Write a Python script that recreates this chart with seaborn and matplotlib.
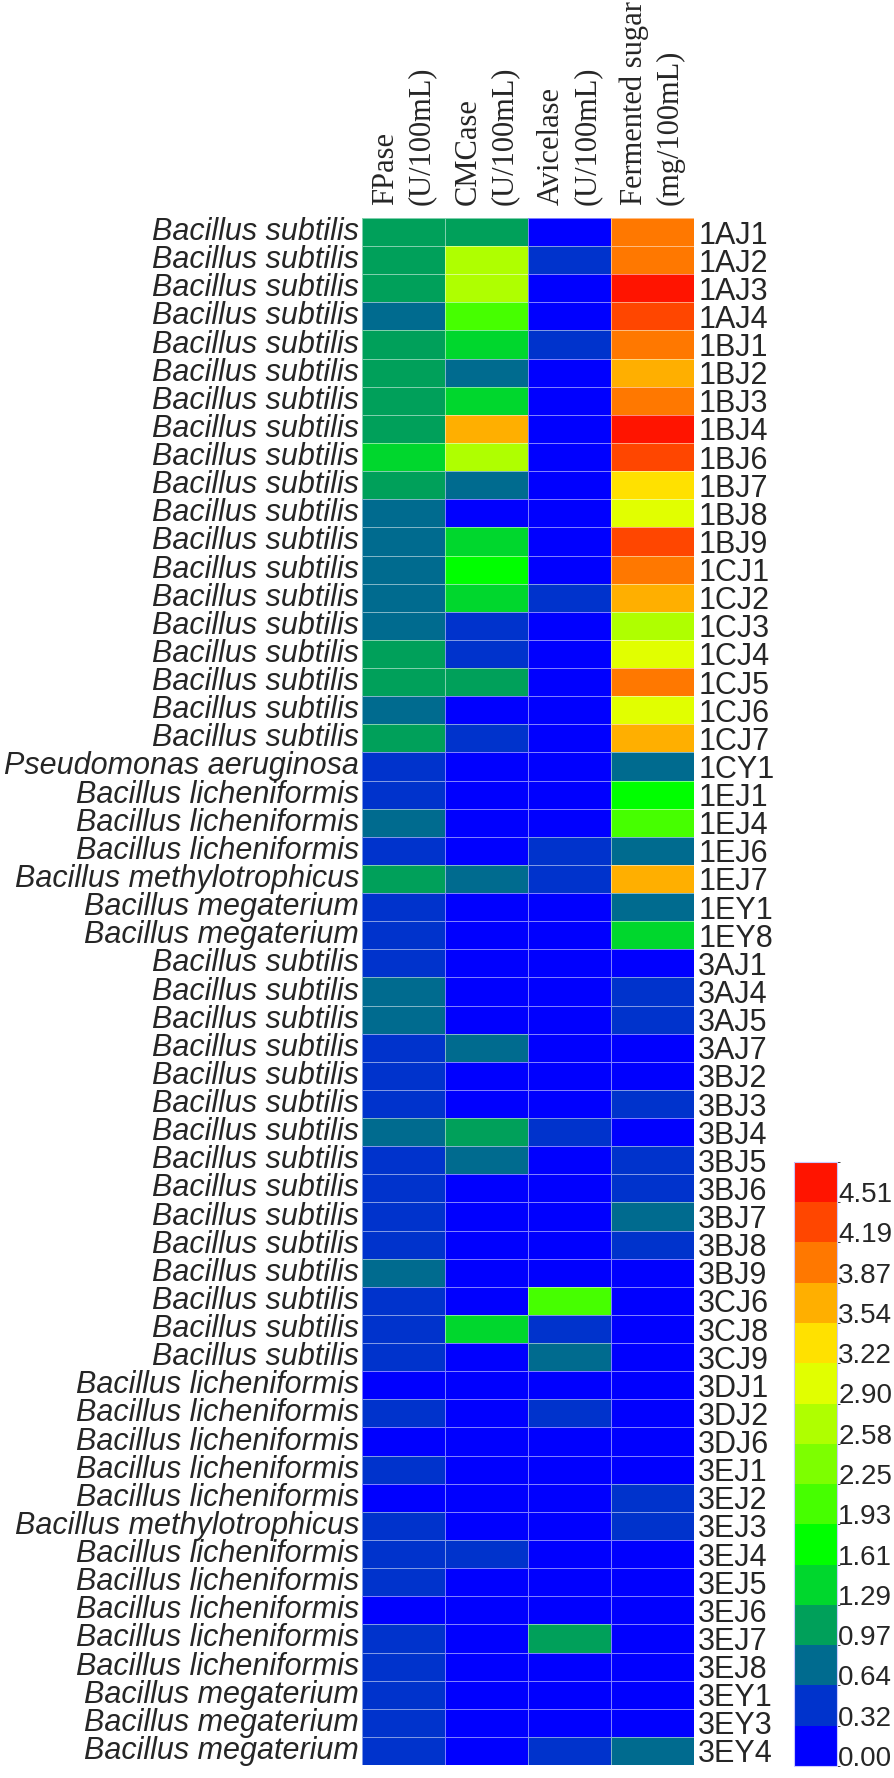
import matplotlib
matplotlib.use('Agg')
import matplotlib.pyplot as plt
import seaborn as sns
import pandas as pd
from matplotlib.colors import ListedColormap, BoundaryNorm

sub = 'Bacillus subtilis'
lic = 'Bacillus licheniformis'
met = 'Bacillus methylotrophicus'
meg = 'Bacillus megaterium'

species = [sub] * 19 + ['Pseudomonas aeruginosa', lic, lic, lic, met, meg, meg] + \
    [sub] * 15 + [lic] * 5 + [met] + [lic] * 5 + [meg] * 3

strains = ['1AJ1', '1AJ2', '1AJ3', '1AJ4', '1BJ1', '1BJ2', '1BJ3', '1BJ4', '1BJ6', '1BJ7',
           '1BJ8', '1BJ9', '1CJ1', '1CJ2', '1CJ3', '1CJ4', '1CJ5', '1CJ6', '1CJ7', '1CY1',
           '1EJ1', '1EJ4', '1EJ6', '1EJ7', '1EY1', '1EY8', '3AJ1', '3AJ4', '3AJ5', '3AJ7',
           '3BJ2', '3BJ3', '3BJ4', '3BJ5', '3BJ6', '3BJ7', '3BJ8', '3BJ9', '3CJ6', '3CJ8',
           '3CJ9', '3DJ1', '3DJ2', '3DJ6', '3EJ1', '3EJ2', '3EJ3', '3EJ4', '3EJ5', '3EJ6',
           '3EJ7', '3EJ8', '3EY1', '3EY3', '3EY4']

# values estimated from the colour bins of the picture
fpase = [1.12, 1.10, 1.15, 0.85, 1.08, 1.12, 1.10, 1.14, 1.45, 1.10,
         0.82, 0.80, 0.84, 0.78, 0.82, 1.05, 1.12, 0.80, 1.15, 0.45,
         0.48, 0.80, 0.42, 1.10, 0.46, 0.44, 0.48, 0.82, 0.80, 0.45,
         0.44, 0.46, 0.78, 0.42, 0.45, 0.48, 0.44, 0.80, 0.46, 0.44,
         0.45, 0.15, 0.42, 0.12, 0.46, 0.18, 0.44, 0.47, 0.43, 0.16,
         0.45, 0.44, 0.46, 0.42, 0.48]
cmcase = [1.12, 2.75, 2.70, 2.10, 1.45, 0.80, 1.48, 3.70, 2.72, 0.82,
          0.12, 1.42, 1.78, 1.45, 0.46, 0.44, 1.10, 0.14, 0.45, 0.16,
          0.12, 0.10, 0.15, 0.80, 0.12, 0.14, 0.10, 0.12, 0.15, 0.82,
          0.12, 0.10, 1.12, 0.80, 0.14, 0.12, 0.10, 0.16, 0.12, 1.46,
          0.14, 0.10, 0.12, 0.14, 0.10, 0.12, 0.15, 0.42, 0.12, 0.10,
          0.14, 0.12, 0.10, 0.12, 0.14]
avicelase = [0.10, 0.44, 0.12, 0.14, 0.42, 0.10, 0.12, 0.14, 0.10, 0.12,
             0.15, 0.10, 0.12, 0.45, 0.14, 0.10, 0.12, 0.15, 0.12, 0.10,
             0.14, 0.12, 0.44, 0.46, 0.15, 0.12, 0.10, 0.14, 0.12, 0.10,
             0.15, 0.12, 0.44, 0.10, 0.12, 0.14, 0.10, 0.15, 2.10, 0.42,
             0.80, 0.12, 0.45, 0.10, 0.14, 0.12, 0.10, 0.15, 0.12, 0.10,
             1.12, 0.14, 0.10, 0.12, 0.44]
sugar = [4.02, 4.05, 4.70, 4.32, 4.00, 3.72, 4.04, 4.68, 4.36, 3.40,
         3.05, 4.38, 4.02, 3.70, 2.72, 3.08, 4.05, 3.04, 3.68, 0.80,
         1.78, 2.10, 0.82, 3.72, 0.78, 1.46, 0.14, 0.45, 0.46, 0.12,
         0.15, 0.44, 0.12, 0.46, 0.42, 0.80, 0.44, 0.14, 0.12, 0.10,
         0.15, 0.12, 0.10, 0.14, 0.12, 0.45, 0.42, 0.15, 0.12, 0.10,
         0.14, 0.12, 0.10, 0.15, 0.80]

columns = ['FPase\n(U/100mL)', 'CMCase\n(U/100mL)', 'Avicelase\n(U/100mL)',
           'Fermented sugar\n(mg/100mL)']

level_bounds = [0.00, 0.32, 0.64, 0.97, 1.29, 1.61, 1.93, 2.25, 2.58, 2.90,
                3.22, 3.54, 3.87, 4.19, 4.51, 4.83]
level_colors = ['#0000FF', '#0033CC', '#006B8F', '#00A05A', '#00D72D', '#00FF00',
                '#46FF00', '#7DFF00', '#AFFF00', '#E1FF00', '#FFE100', '#FFAF00',
                '#FF7800', '#FF4600', '#FF1400']

df = pd.DataFrame({columns[0]: fpase, columns[1]: cmcase,
                   columns[2]: avicelase, columns[3]: sugar}, index=strains)

sns.set_style('white')
plt.rcParams['font.family'] = ['Liberation Sans', 'DejaVu Sans']

fig = plt.figure(figsize=(8.94, 17.78), dpi=100)
ax = fig.add_axes([0.4049, 0.0073, 0.3714, 0.8701])
cax = fig.add_axes([0.8881, 0.0068, 0.0481, 0.3397])

cmap = ListedColormap(level_colors)
norm = BoundaryNorm(level_bounds, cmap.N)
tick_pos = [lo + 0.25 * (hi - lo) for lo, hi in zip(level_bounds[:-1], level_bounds[1:])]

sns.heatmap(df, ax=ax, cmap=cmap, norm=norm, linewidths=0.6,
            linecolor=(1, 1, 1, 0.5), xticklabels=columns, yticklabels=species,
            cbar_ax=cax, cbar_kws={'ticks': tick_pos})

ax.set_xlabel('')
ax.set_ylabel('')
ax.xaxis.tick_top()
ax.set_xticklabels(columns, rotation=90, fontsize=22, linespacing=1.3,
                   multialignment='left', family=['Liberation Serif', 'DejaVu Serif'])
ax.tick_params(axis='x', length=0, pad=9)
ax.set_yticklabels(species, rotation=0, fontsize=22, fontstyle='italic')
ax.tick_params(axis='y', length=0, pad=2)

ax2 = ax.twinx()
ax2.set_ylim(ax.get_ylim())
ax2.set_yticks(ax.get_yticks())
ax2.set_yticklabels(strains, fontsize=22)
ax2.tick_params(axis='y', length=0, pad=3)
for s in ax2.spines.values():
    s.set_visible(False)

cbar = ax.collections[0].colorbar
cbar.set_ticklabels(['%.2f' % b for b in level_bounds[:-1]])
cax.tick_params(length=0, labelsize=20, pad=1)
cbar.outline.set_edgecolor('#c8c8ff')
cbar.outline.set_linewidth(0.8)

fig.savefig('out.png', dpi=100)
